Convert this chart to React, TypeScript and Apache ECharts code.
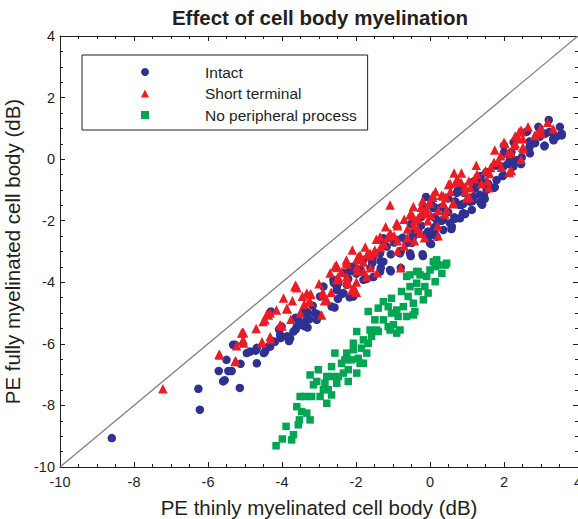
import React, { useEffect, useRef } from "react";
import * as echarts from "echarts";

// ---- data (x: PE thinly myelinated, y: PE fully myelinated), dB ----
const intact: [number, number][] = [
  [-8.6, -9.06], [-6.26, -7.46], [-6.22, -8.14], [-5.14, -7.43], [-5.71, -6.88], [-5.59, -7.22], [-5.55, -7.18],
  [-5.5, -6.52], [-5.45, -6.88], [-5.36, -6.88], [-5.27, -6.03], [-5.12, -6.65], [-4.95, -6.3], [-4.86, -6.25],
  [-4.71, -6.22], [-4.68, -6.63], [-4.49, -6.3], [-4.37, -6.09], [-4.05, -5.49], [-4.24, -5.93], [-3.78, -5.82],
  [-3.51, -5.38], [-3.33, -5.2],
  [-1.57, -3.28], [-1.53, -3.83], [-1.71, -3.89], [-1.99, -3.72], [-1.99, -3.56], [-2.12, -3.5], [-2.21, -3.89],
  [-2.49, -4.05], [-2.58, -3.99], [-2.39, -4.38], [-2.49, -4.54], [-2.17, -4.49], [-2.58, -4.82], [-3.04, -5.04],
  [-3.31, -4.98], [-3.26, -5.2], [-3.54, -5.26], [-3.4, -5.42], [-3.31, -5.47], [-3.63, -5.53], [-3.86, -5.75],
  [-3.81, -5.91], [-4.08, -5.53], [-4.04, -5.81], [-4.27, -5.91], [-4.41, -6.13], [-4.68, -6.13], [-4.3, -4.95],
  [-3.17, -4.76], [-3.63, -5.15],
  [-5.32, -6.03], [-4.46, -6.25], [-4.32, -6.09], [-4.19, -5.93], [-4.05, -5.71], [-4.01, -5.44], [-3.83, -5.82],
  [-3.69, -5.6], [-3.6, -5.44], [-3.38, -5.38], [-3.33, -5.11], [-3.38, -4.9], [-3.11, -5.0], [-3.06, -5.22],
  [-2.66, -4.79], [-2.52, -4.25], [-2.34, -4.35], [-2.07, -4.46], [-2.61, -3.92], [-2.16, -3.54], [-1.8, -3.92],
  [-1.35, -3.65], [-1.08, -3.6], [-1.26, -3.33], [-1.17, -2.84], [-1.26, -2.57], [-0.81, -3.06], [-0.54, -3.06],
  [-0.9, -2.62], [-0.63, -2.73], [-0.45, -2.52], [-0.09, -2.41], [0.0, -2.73], [-0.23, -1.87], [0.18, -1.97],
  [0.36, -1.97], [0.59, -2.19], [0.9, -1.76], [0.81, -1.49], [1.08, -1.38], [0.09, -1.59], [-0.18, -1.54],
  [1.17, -0.73], [1.36, -1.39], [1.17, -1.23], [0.9, -1.45], [0.95, -1.78], [0.67, -1.94], [0.76, -1.01],
  [0.49, -1.28], [0.31, -1.56], [0.49, -1.72], [0.58, -2.27], [0.31, -2.0], [0.12, -1.89], [-0.15, -1.61],
  [-0.01, -2.49], [-0.24, -2.16], [-0.38, -2.0], [-0.52, -2.11], [-0.47, -2.43], [-0.19, -3.15], [-0.52, -3.15],
  [-0.74, -2.55], [-0.79, -2.98], [-1.06, -3.09], [-1.25, -2.65], [-0.97, -2.71], [-1.56, -3.37], [-1.34, -3.31],
  [-1.06, -3.64], [-2.16, -3.64], [-1.88, -3.59], [-1.61, -3.53], [0.12, -2.21], [0.03, -1.45], [-0.11, -1.23],
  [3.21, 1.27], [3.51, 1.05], [3.56, 0.77], [3.33, 0.66], [3.1, 0.44], [2.96, 0.99], [3.12, 0.83], [2.63, 0.9],
  [2.69, 0.57], [2.69, 0.39], [2.26, 0.55], [2.0, 0.44], [2.46, -0.16], [2.32, -0.05], [2.1, -0.16], [1.96, -0.55],
  [2.0, 0.22], [1.78, -0.21], [1.55, -0.43], [1.73, -0.93], [1.5, -0.76], [1.32, -0.71], [1.46, -1.2], [1.41, -1.48],
  [1.14, -1.37], [0.91, -1.09], [0.73, -1.09], [0.86, -1.48], [0.89, -1.77], [0.68, -1.37], [0.45, -1.26],
  [1.23, -0.93], [1.37, -0.55],
  [2.93, 1.05], [3.56, 0.83], [3.34, 0.61], [3.09, 0.42], [2.61, 0.89], [2.7, 0.56], [2.48, 0.06], [2.2, 0.23],
  [2.34, -0.04], [1.98, -0.53], [1.8, -0.2], [1.75, -0.91], [1.39, -1.45], [1.48, -1.29], [0.94, -1.78],
  [0.66, -1.89], [0.43, -1.73], [0.3, -2.0], [0.12, -2.38], [0.03, -2.76], [-0.2, -3.09], [-0.15, -1.62],
  [0.12, -1.56], [1.57, -0.8], [1.2, -0.96], [0.84, -1.02], [1.3, -0.69], [1.52, -0.42], [-0.79, -3.53],
  [-1.33, -3.53], [-2.6, -4.02],
  [-0.49, -2.72], [-0.32, -2.35], [-0.05, -2.35], [0.18, -2.52], [0.36, -2.3], [0.54, -2.08], [0.81, -1.92],
  [1.13, -1.65], [1.35, -1.16], [1.53, -1.0], [1.8, -0.68], [1.98, -0.24], [2.25, -0.24], [2.16, -0.03],
  [2.7, 0.19], [2.84, 0.52], [2.97, 0.73], [3.24, 0.89], [3.42, 0.73],
  [-1.35, -3.06], [-1.54, -3.17], [-1.8, -3.27], [-2.07, -3.49], [-2.34, -3.7], [-2.25, -4.08], [-2.52, -4.14],
  [-2.88, -4.14], [-2.97, -4.46],
];

const shortTerminal: [number, number][] = [
  [-7.22, -7.46], [-5.7, -6.34], [-5.25, -6.55], [-5.23, -6.06], [-5.06, -5.62], [-5.06, -5.9], [-4.54, -5.93],
  [-4.46, -5.22], [-4.37, -5.06],
  [-1.08, -1.49], [-0.9, -2.08], [-0.54, -1.81], [-0.45, -1.54], [0.0, -1.43], [0.36, -1.43], [0.45, -1.65],
  [-0.09, -1.76], [-0.27, -2.41], [-1.08, -2.41], [-1.35, -2.52], [-1.62, -3.06], [-1.94, -3.17], [-2.25, -3.33],
  [-2.57, -3.49], [-1.98, -3.49], [-1.71, -3.81], [-2.25, -3.81], [-2.52, -3.92], [-2.79, -4.57], [-3.33, -4.35],
  [-3.65, -4.14], [-3.24, -4.63], [-2.93, -5.06], [-3.51, -5.0], [-3.87, -4.84], [-4.32, -5.0], [-4.51, -5.27],
  [-5.09, -5.65], [-5.05, -5.87], [-5.68, -6.36], [-5.27, -6.57], [-4.05, -5.38], [-4.32, -5.76],
  [-1.89, -3.12], [-2.26, -3.28], [-2.53, -3.44], [-2.39, -3.66], [-2.21, -4.05], [-1.99, -3.99], [-2.12, -4.27],
  [-1.99, -4.32], [-2.49, -3.83], [-2.67, -4.32], [-2.9, -4.32], [-2.85, -4.6], [-3.22, -4.38], [-3.26, -4.6],
  [-3.63, -4.1], [-3.72, -4.6], [-3.4, -4.71], [-3.86, -4.87], [-3.76, -5.2], [-4.41, -5.04], [-4.0, -5.42],
  [-4.31, -5.86], [-4.54, -5.97], [-5.04, -5.64], [-5.04, -5.97], [-1.49, -2.95], [-1.8, -3.34],
  [0.54, -0.79], [0.76, -0.68], [0.95, -0.9], [0.08, -1.17], [0.31, -1.17], [-0.24, -1.56], [0.22, -1.67],
  [0.4, -1.78], [0.03, -1.83], [-0.52, -1.78], [-0.42, -2.0], [-0.88, -2.11], [-0.61, -2.27], [-0.33, -2.27],
  [0.22, -2.49], [-0.42, -2.65], [-0.97, -2.49], [-1.15, -2.55], [-0.7, -2.82], [-1.52, -3.04], [-1.7, -3.09],
  [-1.34, -2.87], [-0.79, -3.53], [-1.98, -3.26], [-2.25, -3.37], [-1.79, -3.64], [-1.43, -3.69], [-0.33, -1.94],
  [3.33, 0.99], [3.01, 0.83], [2.83, 0.77], [2.46, 0.94], [2.51, 0.66], [2.28, 0.44], [2.51, 0.39], [2.0, 0.55],
  [2.19, 0.22], [1.91, 0.11], [2.46, 0.0], [2.14, -0.43], [1.73, -0.1], [1.64, -0.27], [1.5, -0.38], [1.27, -0.49],
  [1.55, -0.71], [1.59, -0.93], [1.05, -0.71], [1.09, -0.93], [0.73, -0.76], [0.5, -0.82], [0.95, -1.04],
  [0.99, -1.26], [0.63, -1.42], [0.36, -1.2],
  [3.18, 1.2], [2.98, 1.0], [2.84, 0.78], [2.48, 0.89], [2.39, 0.67], [2.02, 0.51], [2.3, 0.51], [2.52, 0.34],
  [2.11, 0.18], [1.93, -0.26], [2.2, -0.37], [1.61, -0.47], [1.39, -0.8], [1.2, -0.64], [0.84, -0.75], [0.71, -0.69],
  [1.07, -1.24], [0.43, -1.24], [0.07, -1.24], [0.62, -1.45], [-0.25, -1.78], [-0.47, -1.84], [-0.06, -2.0],
  [0.21, -2.16], [-0.43, -2.16], [-0.88, -2.16], [-0.15, -2.55], [-0.61, -2.55], [-0.88, -2.65], [-1.06, -2.43],
  [-1.24, -2.76], [-0.88, -2.98], [-1.61, -3.14], [-1.88, -3.2], [-2.24, -3.41], [-2.51, -3.52], [-1.97, -3.63],
  [-1.61, -3.53], [-2.47, -3.85], [-2.24, -3.96], [-2.06, -4.18], [-2.88, -4.4], [-3.24, -4.4], [-3.6, -4.18],
  [-3.96, -4.51], [2.41, 0.89], [2.97, 0.89],
  [-0.7, -1.95], [-0.2, -1.35], [0.15, -1.05], [0.55, -1.05], [0.85, -0.45], [1.25, -0.2], [1.75, 0.3],
  [2.3, 0.75], [2.65, 1.05], [1.85, -0.05], [-1.2, -2.2], [-1.45, -2.6], [-1.75, -2.85], [-2.1, -2.95],
  [-2.7, -3.7], [-3.0, -4.05], [-3.45, -4.45], [-4.15, -4.9], [-4.7, -5.5], [-0.1, -1.6], [0.65, -0.45],
];

const noPeripheral: [number, number][] = [
  [-4.16, -9.31], [-3.99, -9.09], [-3.89, -8.68], [-3.74, -9.12], [-3.69, -8.95], [-3.56, -8.63], [-3.53, -8.47],
  [-3.6, -8.04], [-3.47, -8.2], [-3.33, -8.25], [-3.24, -8.47], [-3.51, -7.71], [-3.38, -7.71], [-3.2, -7.71],
  [-2.97, -7.71], [-2.79, -7.93], [-2.66, -7.66], [-3.24, -7.01], [-3.02, -6.84], [-3.06, -7.22], [-2.84, -7.28],
  [-2.79, -7.06], [-2.66, -6.74], [-2.52, -7.28], [-2.48, -7.06], [-2.57, -6.3], [-2.39, -6.63], [-2.3, -6.52],
  [-2.21, -6.84], [-2.25, -6.3], [-2.07, -6.19], [-1.98, -6.95], [-1.89, -6.63], [-1.8, -6.63], [-2.07, -5.98],
  [-1.98, -5.6], [-1.8, -5.87], [-1.67, -5.98], [-1.71, -6.3], [-1.85, -6.14], [-1.58, -5.76], [-1.62, -5.55],
  [-1.44, -5.55], [-1.67, -4.95], [-1.49, -5.22], [-1.4, -4.84], [-1.26, -4.63], [-1.26, -5.22], [-1.13, -5.44],
  [-1.04, -5.0], [-1.13, -4.79], [-0.99, -5.38], [-0.9, -5.65], [-0.81, -5.55], [-0.86, -5.11], [-0.9, -4.9],
  [-1.04, -4.52], [-0.72, -4.79], [-0.63, -5.11], [-0.77, -4.3], [-0.59, -4.46], [-0.45, -4.68], [-0.45, -5.06],
  [-0.63, -3.81], [-0.54, -4.14], [-0.32, -4.3], [-0.36, -4.03], [-0.27, -3.76], [-0.36, -3.65], [-0.14, -4.14],
  [-0.09, -3.81], [0.0, -3.6], [0.14, -3.49], [0.09, -3.33], [0.22, -3.44], [0.41, -3.44], [0.32, -3.71],
  [0.14, -3.98], [-0.05, -4.35], [-0.18, -4.57], [-0.54, -3.76], [-0.41, -4.95], [-1.08, -5.55], [-1.4, -5.6],
  [-1.94, -6.47], [-2.12, -6.52], [-2.34, -6.95], [-2.21, -7.22], [-2.66, -7.06], [-2.88, -7.49], [-3.15, -7.33],
  [-2.75, -7.49], [0.18, -3.27], [0.45, -3.38], [-0.32, -3.65],
];

const identityLine: [number, number][] = [[-10, -10], [4, 4]];

const axisMin = -10;
const axisMax = 4;
const axisStep = 2;

const seriesNames = ["Intact", "Short terminal", "No peripheral process"];
const titleText = "Effect of cell body myelination";
const xTitle = "PE thinly myelinated cell body (dB)";
const yTitle = "PE fully myelinated cell body (dB)";

const FONT = 'Arial, "Liberation Sans", Helvetica, sans-serif';
const INK = "#231f20";
const COLORS = ["#2E3192", "#ED1C24", "#00A651"];

function makeAxis(position: string, showLabel: boolean, showLine: boolean, extra: any = {}) {
  return {
    type: "value",
    min: axisMin,
    max: axisMax,
    interval: axisStep,
    position,
    axisLine: { show: showLine, onZero: false, lineStyle: { color: INK, width: 1 } },
    axisTick: { show: true, inside: true, length: 5, lineStyle: { color: INK, width: 1 } },
    minorTick: { show: true, splitNumber: 4, length: 3, lineStyle: { color: INK, width: 1 } },
    splitLine: { show: false },
    minorSplitLine: { show: false },
    axisLabel: {
      show: showLabel,
      color: INK,
      fontFamily: FONT,
      fontSize: 14.5,
      showMinLabel: true,
      showMaxLabel: true,
    },
    ...extra,
  };
}

export default function App() {
  const ref = useRef<HTMLDivElement>(null);

  useEffect(() => {
    if (!ref.current) return;
    const chart = echarts.init(ref.current, null, { renderer: "svg" });
    chart.setOption({
      animation: false,
      backgroundColor: "#ffffff",
      title: {
        text: titleText,
        left: 315,
        top: 2,
        textAlign: "center",
        textStyle: { fontFamily: FONT, fontSize: 20.5, fontWeight: "bold", color: INK },
      },
      legend: {
        orient: "vertical",
        left: 82,
        top: 55,
        itemWidth: 8,
        itemHeight: 8,
        itemGap: 5.5,
        padding: [9, 11, 7, 59],
        borderColor: INK,
        borderWidth: 1,
        data: [
          { name: seriesNames[0], icon: "circle" },
          { name: seriesNames[1], icon: "triangle" },
          { name: seriesNames[2], icon: "rect" },
        ],
        textStyle: { fontFamily: FONT, fontSize: 15.5, color: INK, padding: [0, 0, 0, 51] },
      },
      grid: { left: 60, right: 0, top: 36, bottom: 52, containLabel: false, outerBoundsMode: "none" },
      xAxis: [
        makeAxis("bottom", true, true, {
          name: xTitle,
          nameLocation: "middle",
          nameGap: 30,
          nameTextStyle: { fontFamily: FONT, fontSize: 20.5, color: INK },
          axisLabel: {
            show: true, color: INK, fontFamily: FONT, fontSize: 14.5, margin: 7,
            showMinLabel: true, showMaxLabel: true,
          },
        }),
        makeAxis("top", false, true),
      ],
      yAxis: [
        makeAxis("left", true, true, {
          name: yTitle,
          nameLocation: "middle",
          nameGap: 28,
          nameTextStyle: { fontFamily: FONT, fontSize: 20.5, color: INK },
          axisLabel: {
            show: true, color: INK, fontFamily: FONT, fontSize: 14.5, margin: 5,
            showMinLabel: true, showMaxLabel: true,
          },
        }),
        makeAxis("right", false, false),
      ],
      series: [
        {
          type: "line",
          name: "identity",
          data: identityLine,
          xAxisIndex: 0,
          yAxisIndex: 0,
          symbol: "none",
          silent: true,
          lineStyle: { color: "#808080", width: 1.3 },
          z: 1,
        },
        {
          type: "scatter",
          name: seriesNames[0],
          data: intact,
          symbol: "circle",
          symbolSize: 8.5,
          itemStyle: { color: COLORS[0], opacity: 1 },
          z: 2,
        },
        {
          type: "scatter",
          name: seriesNames[1],
          data: shortTerminal,
          symbol: "triangle",
          symbolSize: 9.5,
          itemStyle: { color: COLORS[1], opacity: 1 },
          z: 3,
        },
        {
          type: "scatter",
          name: seriesNames[2],
          data: noPeripheral,
          symbol: "rect",
          symbolSize: 7.5,
          itemStyle: { color: COLORS[2], opacity: 1 },
          z: 4,
        },
      ],
    });
    return () => chart.dispose();
  }, []);

  return <div ref={ref} style={{ width: 578, height: 519, position: "absolute", left: 0, top: 0 }} />;
}
